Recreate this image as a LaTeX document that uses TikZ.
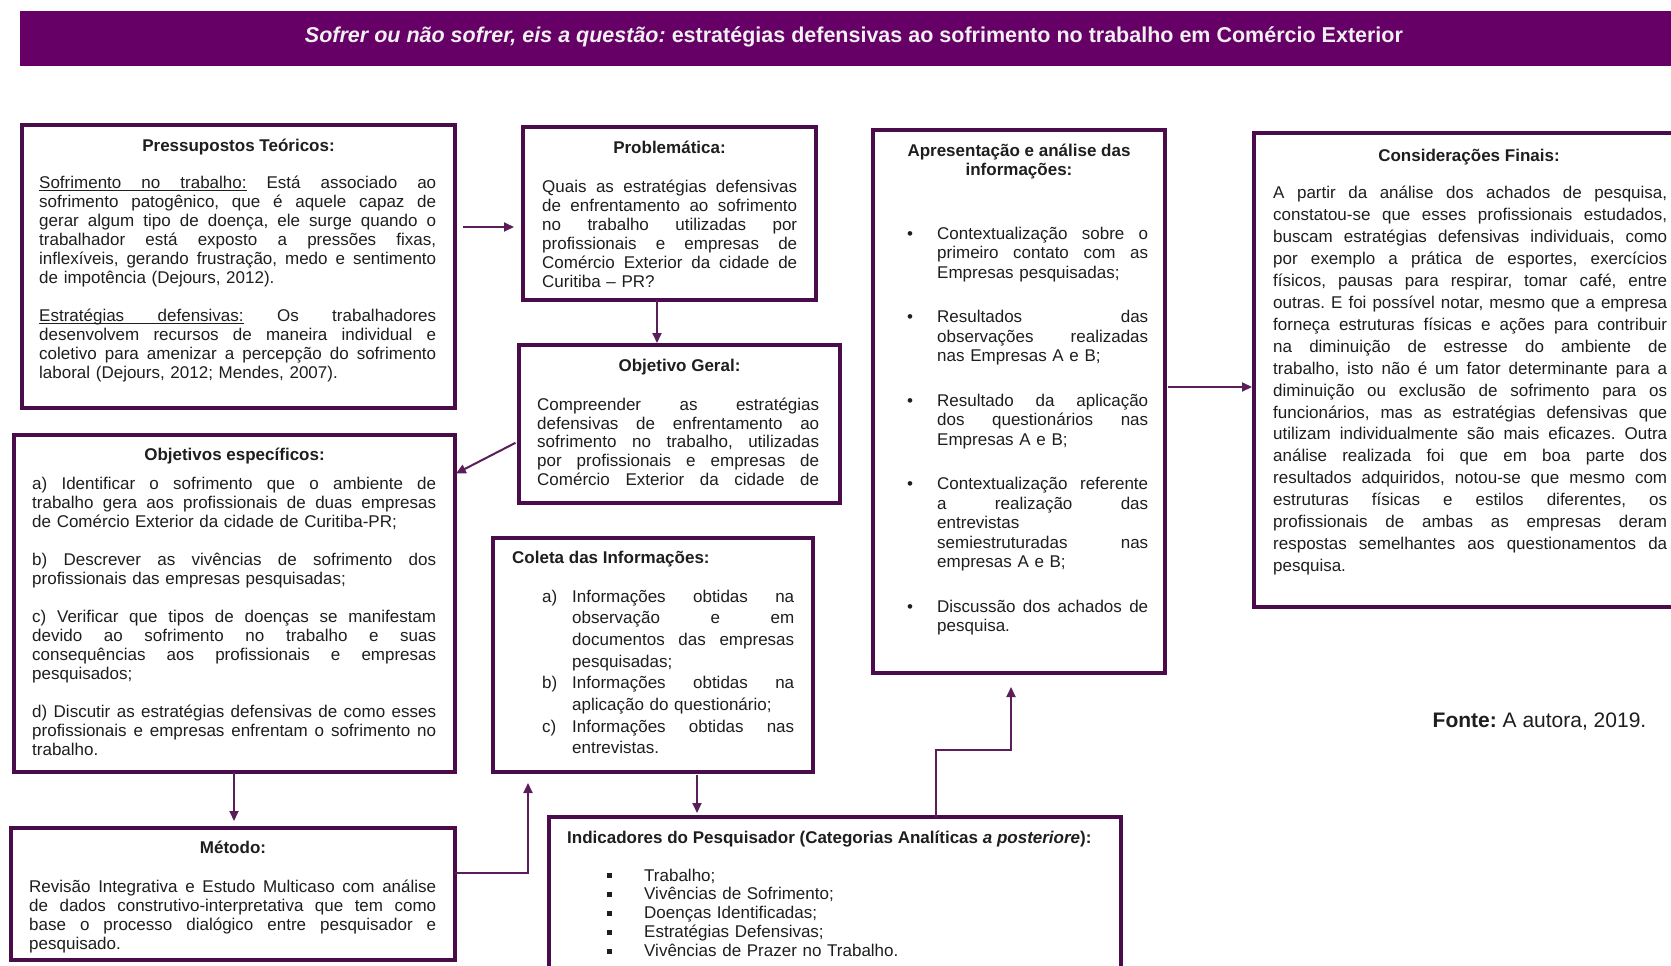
\documentclass[tikz,border=0pt]{standalone}
\usepackage{fontspec}
\setmainfont{Liberation Sans}
\usetikzlibrary{arrows.meta}
\definecolor{bandc}{HTML}{660066}
\definecolor{boxc}{HTML}{4A0C4A}
\definecolor{arrc}{HTML}{5A1E5A}
\definecolor{txt}{HTML}{1E1E1E}
\frenchspacing
\newcommand\sps{\spaceskip=\fontdimen2\font plus 1fil minus .4\fontdimen2\font\relax\xspaceskip=\spaceskip}
\newcommand\J[1]{\makebox[\linewidth][s]{\sps #1}\\}
\newcommand\JL[1]{\makebox[\linewidth][s]{\sps #1}}
\newcommand\JW[2]{\makebox[#1][s]{\sps #2}}
\newcommand\LI[2]{\makebox[#1][l]{#2}}
\newsavebox\uwbox
\newcommand\uw[1]{\sbox\uwbox{#1}\rlap{\rule[-2.7pt]{\wd\uwbox}{1.1pt}}\usebox\uwbox}
\newcommand\usp{\leaders\hrule height -1.6pt depth 2.7pt\hskip\fontdimen2\font plus 1fil minus .4\fontdimen2\font\relax}
\begin{document}
\begin{tikzpicture}[x=1pt,y=-1pt,
  box/.style={draw=boxc, line width=4pt, fill=white, inner sep=0pt, outer sep=0pt, anchor=north west},
  head/.style={anchor=base, inner sep=0pt, text=txt, font=\fontsize{17}{19}\selectfont\bfseries},
  body/.style={anchor=base west, inner sep=0pt, align=left, text=txt},
  arr/.style={draw=arrc, line width=2pt, -{Triangle[length=10pt,width=9pt]}}]
\useasboundingbox (0,0) rectangle (1671,966);
\clip (0,0) rectangle (1671,966);
\fill[white] (0,0) rectangle (1671,966);

% title band
\node[fill=bandc, minimum width=1670pt, minimum height=55pt, inner sep=0pt, outer sep=0pt, anchor=north west] (band) at (20,11) {};
\node[anchor=base, inner sep=0pt, text=white!94!black, font=\fontsize{21.5}{24}\selectfont\bfseries] (title) at (854,43)
  {\textit{Sofrer ou não sofrer, eis a questão:} estratégias defensivas ao sofrimento no trabalho em Comércio Exterior};

% boxes
\node[box, minimum width=433pt, minimum height=283pt] (pt) at (22,125) {};
\node[box, minimum width=293pt, minimum height=173pt] (pb) at (523,127) {};
\node[box, minimum width=321pt, minimum height=158pt] (og) at (519,345) {};
\node[box, minimum width=441pt, minimum height=337pt] (oe) at (14,435) {};
\node[box, minimum width=320pt, minimum height=234pt] (co) at (493,538) {};
\node[box, minimum width=444pt, minimum height=132pt] (me) at (11,828) {};
\node[box, minimum width=572pt, minimum height=200pt] (ind) at (549,817) {};
\node[box, minimum width=292pt, minimum height=543pt] (ap) at (873,130) {};
\node[box, minimum width=450pt, minimum height=474pt] (cf) at (1254,133) {};

% Pressupostos
\node[head] (pt-h) at (238.5,151) {Pressupostos Teóricos:};
\node[body, text width=397pt, font=\fontsize{17}{19}\selectfont] (pt-b) at (39,188) {%
\J{\uw{Sofrimento}\usp\uw{no}\usp\uw{trabalho:} Está associado ao}
\J{sofrimento patogênico, que é aquele capaz de}
\J{gerar algum tipo de doença, ele surge quando o}
\J{trabalhador está exposto a pressões fixas,}
\J{inflexíveis, gerando frustração, medo e sentimento}
de impotência (Dejours, 2012).\\[19.5pt]
\J{\uw{Estratégias}\usp\uw{defensivas:} Os trabalhadores}
\J{desenvolvem recursos de maneira individual e}
\J{coletivo para amenizar a percepção do sofrimento}
laboral (Dejours, 2012; Mendes, 2007).};

% Problematica
\node[head] (pb-h) at (669.5,153) {Problemática:};
\node[body, text width=255pt, font=\fontsize{17}{19}\selectfont] (pb-b) at (542,192.5) {%
\J{Quais as estratégias defensivas}
\J{de enfrentamento ao sofrimento}
\J{no trabalho utilizadas por}
\J{profissionais e empresas de}
\J{Comércio Exterior da cidade de}
Curitiba – PR?};

% Objetivo Geral
\node[head] (og-h) at (679.5,371) {Objetivo Geral:};
\node[body, text width=282pt, font=\fontsize{17}{18.7}\selectfont] (og-b) at (537,410.5) {%
\J{Compreender as estratégias}
\J{defensivas de enfrentamento ao}
\J{sofrimento no trabalho, utilizadas}
\J{por profissionais e empresas de}
\JL{Comércio Exterior da cidade de}};

% Objetivos especificos
\node[head] (oe-h) at (234.5,460) {Objetivos específicos:};
\node[body, text width=404pt, font=\fontsize{17}{19.2}\selectfont] (oe-b) at (32,489) {%
\J{a) Identificar o sofrimento que o ambiente de}
\J{trabalho gera aos profissionais de duas empresas}
de Comércio Exterior da cidade de Curitiba-PR;\\[18.5pt]
\J{b) Descrever as vivências de sofrimento dos}
profissionais das empresas pesquisadas;\\[18.5pt]
\J{c) Verificar que tipos de doenças se manifestam}
\J{devido ao sofrimento no trabalho e suas}
\J{consequências aos profissionais e empresas}
pesquisados;\\[18.5pt]
\J{d) Discutir as estratégias defensivas de como esses}
\J{profissionais e empresas enfrentam o sofrimento no}
trabalho.};

% Coleta
\node[anchor=base west, inner sep=0pt, text=txt, font=\fontsize{17}{19}\selectfont\bfseries] (co-h) at (512,563) {Coleta das Informações:};
\node[body, text width=252pt, font=\fontsize{17}{21.7}\selectfont] (co-b) at (542,602) {%
\LI{30pt}{a)}\JW{222pt}{Informações obtidas na}\\
\hspace*{30pt}\JW{222pt}{observação e em}\\
\hspace*{30pt}\JW{222pt}{documentos das empresas}\\
\hspace*{30pt}pesquisadas;\\
\LI{30pt}{b)}\JW{222pt}{Informações obtidas na}\\
\hspace*{30pt}aplicação do questionário;\\
\LI{30pt}{c)}\JW{222pt}{Informações obtidas nas}\\
\hspace*{30pt}entrevistas.};

% Metodo
\node[head] (me-h) at (233,853.5) {Método:};
\node[body, text width=407pt, font=\fontsize{17}{19.3}\selectfont] (me-b) at (29,892) {%
\J{Revisão Integrativa e Estudo Multicaso com análise}
\J{de dados construtivo-interpretativa que tem como}
\J{base o processo dialógico entre pesquisador e}
pesquisado.};

% Indicadores
\node[anchor=base west, inner sep=0pt, text=txt, font=\fontsize{17}{19}\selectfont\bfseries] (ind-h) at (567,843)
  {Indicadores do Pesquisador (Categorias Analíticas \textit{a posteriore}):};
\node[body, text width=480pt, font=\fontsize{17}{18.9}\selectfont] (ind-b) at (606.5,881) {%
\LI{37.5pt}{\rule[3pt]{5pt}{5pt}}Trabalho;\\
\LI{37.5pt}{\rule[3pt]{5pt}{5pt}}Vivências de Sofrimento;\\
\LI{37.5pt}{\rule[3pt]{5pt}{5pt}}Doenças Identificadas;\\
\LI{37.5pt}{\rule[3pt]{5pt}{5pt}}Estratégias Defensivas;\\
\LI{37.5pt}{\rule[3pt]{5pt}{5pt}}Vivências de Prazer no Trabalho.};

% Apresentacao
\node[anchor=base, inner sep=0pt, align=center, text=txt, font=\fontsize{17}{18.5}\selectfont\bfseries] (ap-h) at (1019,175)
  {Apresentação e análise das\\informações:};
\node[body, text width=241pt, font=\fontsize{17}{19.5}\selectfont] (ap-b) at (907,239) {%
\LI{30pt}{•}\JW{211pt}{Contextualização sobre o}\\
\hspace*{30pt}\JW{211pt}{primeiro contato com as}\\
\hspace*{30pt}Empresas pesquisadas;\\[25pt]
\LI{30pt}{•}\JW{211pt}{Resultados das}\\
\hspace*{30pt}\JW{211pt}{observações realizadas}\\
\hspace*{30pt}nas Empresas A e B;\\[25pt]
\LI{30pt}{•}\JW{211pt}{Resultado da aplicação}\\
\hspace*{30pt}\JW{211pt}{dos questionários nas}\\
\hspace*{30pt}Empresas A e B;\\[25pt]
\LI{30pt}{•}\JW{211pt}{Contextualização referente}\\
\hspace*{30pt}\JW{211pt}{a realização das}\\
\hspace*{30pt}entrevistas\\
\hspace*{30pt}\JW{211pt}{semiestruturadas nas}\\
\hspace*{30pt}empresas A e B;\\[25pt]
\LI{30pt}{•}\JW{211pt}{Discussão dos achados de}\\
\hspace*{30pt}pesquisa.};

% Consideracoes
\node[head] (cf-h) at (1469,161) {Considerações Finais:};
\node[body, text width=394pt, font=\fontsize{17}{21.95}\selectfont] (cf-b) at (1273,198.5) {%
\J{A partir da análise dos achados de pesquisa,}
\J{constatou-se que esses profissionais estudados,}
\J{buscam estratégias defensivas individuais, como}
\J{por exemplo a prática de esportes, exercícios}
\J{físicos, pausas para respirar, tomar café, entre}
\J{outras. E foi possível notar, mesmo que a empresa}
\J{forneça estruturas físicas e ações para contribuir}
\J{na diminuição de estresse do ambiente de}
\J{trabalho, isto não é um fator determinante para a}
\J{diminuição ou exclusão de sofrimento para os}
\J{funcionários, mas as estratégias defensivas que}
\J{utilizam individualmente são mais eficazes. Outra}
\J{análise realizada foi que em boa parte dos}
\J{resultados adquiridos, notou-se que mesmo com}
\J{estruturas físicas e estilos diferentes, os}
\J{profissionais de ambas as empresas deram}
\J{respostas semelhantes aos questionamentos da}
pesquisa.};

% source
\node[anchor=base west, inner sep=0pt, text=txt, font=\fontsize{21}{24}\selectfont] (fonte) at (1432.5,727)
  {\textbf{Fonte:} A autora, 2019.};

% connectors
\coordinate (a1) at (0,227);
\draw[arr, shorten <=8pt, shorten >=9pt] (pt.east |- a1) -- (pb.west |- a1);
\coordinate (a2) at (657,0);
\draw[arr, shorten >=2pt] (pb.south -| a2) -- (og.north -| a2);
\coordinate (a3s) at (0,441);
\coordinate (a3e) at (0,474);
\draw[arr, shorten <=4pt, shorten >=1pt] (og.west |- a3s) -- (oe.east |- a3e);
\coordinate (a4) at (234,0);
\draw[arr, shorten >=7pt] (oe.south -| a4) -- (me.north -| a4);
\coordinate (a5) at (528,873);
\draw[arr, shorten >=11pt] (me.east |- a5) -| (co.south -| a5);
\coordinate (a6) at (697,0);
\draw[arr, shorten <=3pt, shorten >=4pt] (co.south -| a6) -- (ind.north -| a6);
\coordinate (a7a) at (936,750);
\coordinate (a7b) at (1011,750);
\draw[arr, shorten >=14pt] (ind.north -| a7a) |- (a7b) -- (ap.south -| a7b);
\coordinate (a8) at (0,387);
\draw[arr, shorten <=3pt, shorten >=2pt] (ap.east |- a8) -- (cf.west |- a8);
\end{tikzpicture}
\end{document}
